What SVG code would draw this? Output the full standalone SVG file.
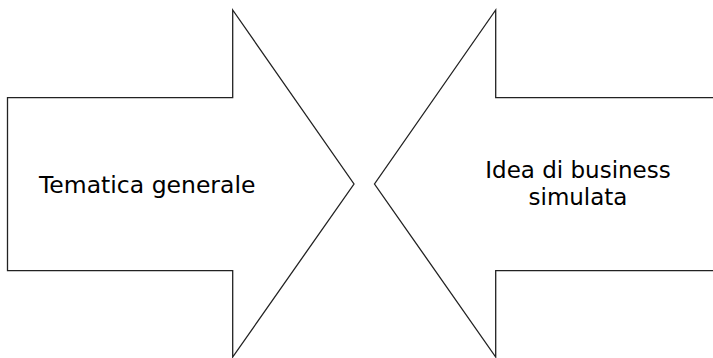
<svg xmlns="http://www.w3.org/2000/svg" width="713" height="358" viewBox="0 0 713 358">
<style>
.arrow{fill:#fff;stroke:#222;stroke-width:1.3;stroke-linejoin:miter}
.lbl{font-family:"DejaVu Sans",Verdana,sans-serif;font-size:23.5px;fill:#000}
</style>
<rect width="713" height="358" fill="#fff"/>
<g id="left-arrow">
<polygon class="arrow" points="7.5,97.7 232.7,97.7 232.7,10 354,184 232.7,357 232.7,270.7 7.5,270.7"/>
<text class="lbl" x="39" y="192.5">Tematica generale</text>
</g>
<g id="right-arrow">
<polygon class="arrow" points="720,97.7 495.7,97.7 495.7,10 374.5,184 495.7,357 495.7,270.7 720,270.7"/>
<text class="lbl" text-anchor="middle" style="font-size:23px"><tspan x="578" y="177.5">Idea di business</tspan><tspan x="578" y="205">simulata</tspan></text>
</g>
<g id="connectors"/>
</svg>
